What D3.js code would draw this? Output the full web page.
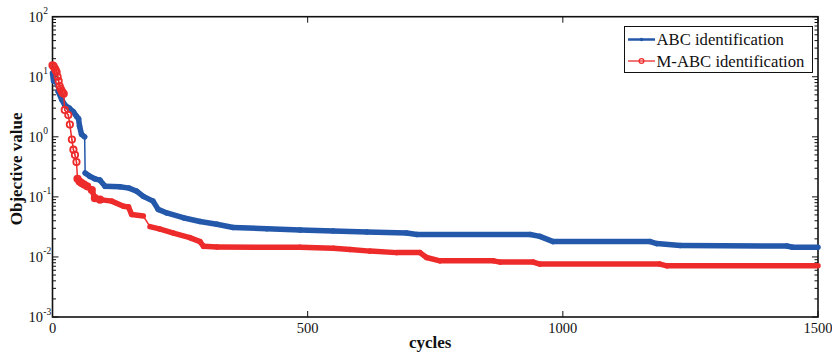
<!DOCTYPE html>
<html>
<head>
<meta charset="utf-8">
<script src="https://cdn.jsdelivr.net/npm/d3@7"></script>
<style>
  body { margin: 0; background: #fff; }
  text { font-family: "Liberation Serif", "Times New Roman", serif; fill: #111; }
</style>
</head>
<body>
<svg width="832" height="352"></svg>
<script>
// convergence curves (cycle, objective value at breakpoints)
var abcCycles = [0, 2, 11, 18, 24, 33, 41, 47, 51, 53, 57, 63, 64, 73, 83, 93, 103, 132, 150, 165, 178, 197, 207, 224, 256, 289, 322, 354, 420, 485, 550, 616, 694, 714, 936, 955, 981, 1171, 1184, 1230, 1439, 1450, 1500];
var abcValues = [11.5, 8.5, 5.7, 4.2, 3.4, 3.0, 2.6, 2.2, 2.0, 1.5, 1.1, 1.0, 0.25, 0.22, 0.2, 0.19, 0.15, 0.147, 0.14, 0.124, 0.102, 0.085, 0.062, 0.054, 0.045, 0.039, 0.035, 0.031, 0.0295, 0.028, 0.027, 0.026, 0.025, 0.0237, 0.0237, 0.022, 0.018, 0.018, 0.0167, 0.0155, 0.0152, 0.0145, 0.0145];

var mabcCycles = [0, 2, 4, 6, 8, 10, 12, 14, 16, 18, 20, 22, 24, 31, 34, 38, 41, 44, 47, 49, 53, 57, 62, 68, 77, 83, 93, 116, 139, 149, 155, 178, 191, 211, 237, 269, 289, 296, 322, 485, 550, 583, 622, 674, 720, 733, 759, 864, 877, 942, 955, 1190, 1204, 1500];
var mabcValues = [15.5, 15, 14, 13, 12, 10, 8.5, 7, 6.3, 5.8, 5.4, 5.2, 2.8, 2.3, 1.6, 0.9, 0.61, 0.5, 0.38, 0.2, 0.18, 0.17, 0.16, 0.15, 0.13, 0.095, 0.09, 0.085, 0.07, 0.068, 0.051, 0.048, 0.032, 0.029, 0.025, 0.021, 0.018, 0.015, 0.0146, 0.0145, 0.014, 0.0133, 0.0125, 0.0118, 0.0118, 0.0098, 0.0086, 0.0086, 0.0082, 0.0082, 0.0076, 0.0076, 0.0071, 0.0071];

var xTicks = [0, 500, 1000, 1500];
var yExponents = [-3, -2, -1, 0, 1, 2];
var seriesNames = ["ABC identification", "M-ABC identification"];

var blue = "#2458aa", red = "#ee2b2b";

var svg = d3.select("svg");
var plotLeft = 52.5, plotRight = 818, plotTop = 16.7, plotBottom = 317;

var x = d3.scaleLinear().domain([0, 1500]).range([plotLeft, plotRight]);
var y = d3.scaleLog().domain([1e-3, 1e2]).range([plotBottom, plotTop]);

// minor log ticks
var minors = [];
yExponents.slice(0, -1).forEach(function (e) {
    for (var k = 2; k <= 9; k++) minors.push(k * Math.pow(10, e));
});

var axes = svg.append("g").attr("stroke", "#111");
// y ticks, both sides, inward
[plotLeft, plotRight].forEach(function (px) {
    var dir = px == plotLeft ? 1 : -1;
    axes.selectAll(null).data(yExponents).enter().append("line")
        .attr("x1", px).attr("x2", px + dir * 6)
        .attr("y1", d => y(Math.pow(10, d))).attr("y2", d => y(Math.pow(10, d)))
        .attr("stroke-width", 1);
    axes.selectAll(null).data(minors).enter().append("line")
        .attr("x1", px).attr("x2", px + dir * 3.5)
        .attr("y1", d => y(d)).attr("y2", d => y(d))
        .attr("stroke-width", 1);
});
// x ticks, bottom and top, inward
[plotBottom, plotTop].forEach(function (py) {
    var dir = py == plotBottom ? -1 : 1;
    axes.selectAll(null).data(xTicks).enter().append("line")
        .attr("y1", py).attr("y2", py + dir * 6)
        .attr("x1", d => x(d)).attr("x2", d => x(d))
        .attr("stroke-width", 1);
});

// frame
svg.append("rect")
    .attr("x", plotLeft).attr("y", plotTop)
    .attr("width", plotRight - plotLeft).attr("height", plotBottom - plotTop)
    .attr("fill", "none").attr("stroke", "#111").attr("stroke-width", 1.6);

// tick labels
svg.append("g").selectAll("text").data(yExponents).enter().append("text")
    .attr("x", 43).attr("y", d => y(Math.pow(10, d)) + 5)
    .attr("text-anchor", "end")
    .style("font-size", "14.5px")
    .text("10");
svg.append("g").selectAll("text").data(yExponents).enter().append("text")
    .attr("x", 43.3).attr("y", d => y(Math.pow(10, d)) - 2.5)
    .style("font-size", "9.5px")
    .text(d => d);

svg.append("g").selectAll("text").data(xTicks).enter().append("text")
    .attr("x", d => x(d)).attr("y", 332.5)
    .attr("text-anchor", "middle")
    .style("font-size", "14.5px")
    .text(d => d);

svg.append("text")
    .attr("x", x(750) - 5).attr("y", 348)
    .attr("text-anchor", "middle")
    .style("font-size", "17px").style("font-weight", "bold")
    .text("cycles");

svg.append("text")
    .attr("transform", "translate(22," + ((plotTop + plotBottom) / 2 + 2) + ") rotate(-90)")
    .attr("text-anchor", "middle")
    .style("font-size", "17px").style("font-weight", "bold")
    .text("Objective value");

// curves: thick where the points crowd together, thin on big jumps
function drawSeries(cycles, values, color, marker) {
    var g = svg.append("g");
    var pts = cycles.map((c, i) => [x(c), y(values[i])]);
    for (var i = 1; i < pts.length; i++) {
        var dy = Math.abs(pts[i][1] - pts[i - 1][1]);
        var thin = dy > 9 || (marker == "o" && cycles[i] <= 49);
        g.append("line")
            .attr("x1", pts[i - 1][0]).attr("y1", pts[i - 1][1])
            .attr("x2", pts[i][0]).attr("y2", pts[i][1])
            .attr("stroke", color)
            .attr("stroke-width", thin ? 1.5 : 5.5)
            .attr("stroke-linecap", "round");
    }
    var early = pts.filter(p => p[0] < 100);
    if (marker == "o") {
        g.selectAll("circle").data(early).enter().append("circle")
            .attr("cx", d => d[0]).attr("cy", d => d[1]).attr("r", 3.2)
            .attr("fill", "none").attr("stroke", color).attr("stroke-width", 1.8);
    } else {
        g.selectAll("circle").data(early).enter().append("circle")
            .attr("cx", d => d[0]).attr("cy", d => d[1]).attr("r", 2.6)
            .attr("fill", color);
    }
}
drawSeries(abcCycles, abcValues, blue, ".");
drawSeries(mabcCycles, mabcValues, red, "o");

// legend
var lg = svg.append("g");
lg.append("rect").attr("x", 624.5).attr("y", 26.5).attr("width", 188).attr("height", 46)
    .attr("fill", "#fff").attr("stroke", "#111").attr("stroke-width", 1);
var rows = lg.selectAll("g").data(seriesNames).enter().append("g")
    .attr("transform", (d, i) => "translate(0," + (39.5 + i * 21.5) + ")");
rows.append("line").attr("x1", 628).attr("x2", 655).attr("y1", 0).attr("y2", 0)
    .attr("stroke", (d, i) => i == 0 ? blue : red)
    .attr("stroke-width", (d, i) => i == 0 ? 2.5 : 1.3);
rows.append("circle").attr("cx", 641.5).attr("cy", 0)
    .attr("r", (d, i) => i == 0 ? 1.8 : 2.4)
    .attr("fill", (d, i) => i == 0 ? blue : "none")
    .attr("stroke", (d, i) => i == 0 ? "none" : red).attr("stroke-width", 1.2);
rows.append("text").attr("x", 656.5).attr("y", 5.5)
    .style("font-size", "16.7px")
    .text(d => d);
</script>
</body>
</html>
